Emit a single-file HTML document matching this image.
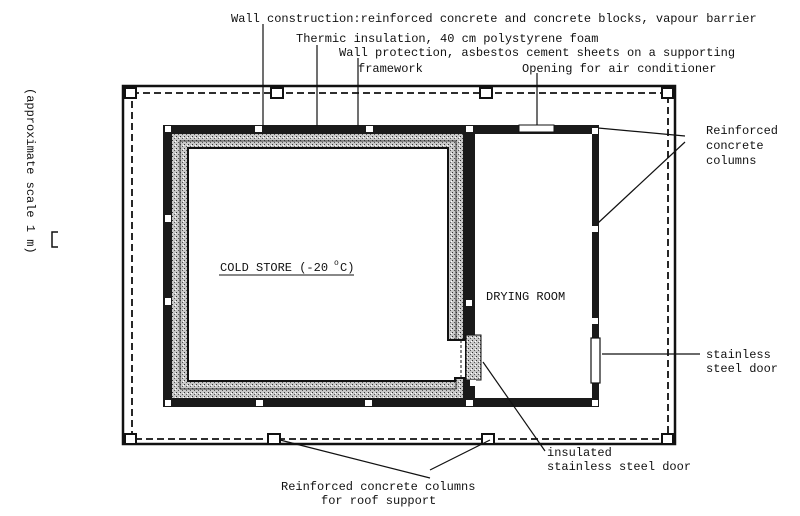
<!DOCTYPE html>
<html><head><style>
body{margin:0;background:#fff;}
svg{display:block;}
text{font-family:"Liberation Mono",monospace;font-size:12px;fill:#111;}
</style></head><body>
<svg width="800" height="516" viewBox="0 0 800 516" xmlns="http://www.w3.org/2000/svg">
<defs>
<pattern id="st" width="4" height="4" patternUnits="userSpaceOnUse">
<rect width="4" height="4" fill="#c8c8c8"/><rect x="0" y="0" width="1" height="1" fill="#333"/><rect x="2" y="2" width="1" height="1" fill="#555"/><rect x="3" y="1" width="1" height="1" fill="#fff"/>
</pattern>
</defs>
<rect x="123" y="86" width="552" height="358" fill="none" stroke="#111" stroke-width="2.5"/>
<rect x="132" y="93" width="536" height="346" fill="none" stroke="#111" stroke-width="1.8" stroke-dasharray="7,4"/>
<g fill="#fff" stroke="#111" stroke-width="2">
<rect x="125" y="88" width="11" height="10"/><rect x="271" y="88" width="12" height="10"/><rect x="480" y="88" width="12" height="10"/><rect x="662" y="88" width="11" height="10"/>
<rect x="125" y="434" width="11" height="10"/><rect x="268" y="434" width="12" height="10"/><rect x="482" y="434" width="12" height="10"/><rect x="662" y="434" width="11" height="10"/>
</g>
<rect x="163" y="125" width="436" height="282" fill="#1a1a1a"/>
<rect x="172" y="134" width="291" height="264" fill="url(#st)"/>
<rect x="475" y="134" width="117" height="264" fill="#fff"/>
<polygon points="463,134 475,134 475,398 463,398" fill="#1a1a1a"/>
<rect x="180" y="141" width="276" height="248" fill="none" stroke="#333" stroke-width="1"/>
<polygon points="188,148 448,148 448,340 466,340 466,378 455,378 455,381 188,381" fill="#fff" stroke="#111" stroke-width="2"/>
<rect x="466" y="335" width="15" height="45" fill="url(#st)" stroke="#111" stroke-width="1"/>
<line x1="461" y1="340" x2="461" y2="380" stroke="#111" stroke-dasharray="3,2"/>
<rect x="591" y="338" width="9" height="45" fill="#fff" stroke="#111" stroke-width="1.2"/>
<rect x="519" y="125" width="35" height="7" fill="#fff" stroke="#111"/>
<g fill="#fff">
<rect x="165" y="126" width="6" height="6"/><rect x="255" y="126" width="7" height="6"/><rect x="366" y="126" width="7" height="6"/><rect x="466" y="126" width="7" height="6"/><rect x="592" y="128" width="6" height="6"/>
<rect x="165" y="215" width="6" height="7"/><rect x="165" y="298" width="6" height="7"/><rect x="165" y="400" width="6" height="6"/>
<rect x="256" y="400" width="7" height="6"/><rect x="365" y="400" width="7" height="6"/><rect x="466" y="400" width="7" height="6"/><rect x="592" y="400" width="6" height="6"/>
<rect x="592" y="226" width="6" height="6"/><rect x="592" y="318" width="6" height="6"/>
<rect x="466" y="300" width="6" height="6"/><rect x="470" y="380" width="6" height="6"/>
</g>
<g stroke="#111" stroke-width="1.2" fill="none">
<line x1="263" y1="24" x2="263" y2="126"/>
<line x1="317" y1="45" x2="317" y2="126"/>
<line x1="358" y1="58" x2="358" y2="126"/>
<line x1="537" y1="73" x2="537" y2="125"/>
<line x1="598" y1="128" x2="685" y2="136"/>
<line x1="598" y1="223" x2="685" y2="142"/>
<line x1="602" y1="354" x2="700" y2="354"/>
<line x1="483" y1="362" x2="545" y2="451"/>
<line x1="280" y1="440" x2="430" y2="478"/>
<line x1="490" y1="440" x2="430" y2="470"/>
</g>
<text x="231" y="22">Wall construction:reinforced concrete and concrete blocks, vapour barrier</text>
<text x="296" y="42">Thermic insulation, 40 cm polystyrene foam</text>
<text x="339" y="56">Wall protection, asbestos cement sheets on a supporting</text>
<text x="358" y="72">framework</text>
<text x="522" y="72">Opening for air conditioner</text>
<text x="706" y="134">Reinforced</text>
<text x="706" y="149">concrete</text>
<text x="706" y="164">columns</text>
<text x="220" y="271">COLD STORE (-20</text><text x="334" y="265" style="font-size:8px">o</text><text x="340" y="271">C)</text>
<line x1="219" y1="275" x2="354" y2="275" stroke="#111" stroke-width="1"/>
<text x="486" y="300">DRYING ROOM</text>
<text x="706" y="358">stainless</text>
<text x="706" y="372">steel door</text>
<text x="547" y="456">insulated</text>
<text x="547" y="470">stainless steel door</text>
<text x="281" y="490">Reinforced concrete columns</text>
<text x="321" y="504">for roof support</text>
<text transform="translate(27,88) rotate(90)">(approximate scale 1 m)</text>
<path d="M58,232 L52,232 L52,247 L58,247" stroke="#111" stroke-width="1.5" fill="none"/>
</svg>
</body></html>
